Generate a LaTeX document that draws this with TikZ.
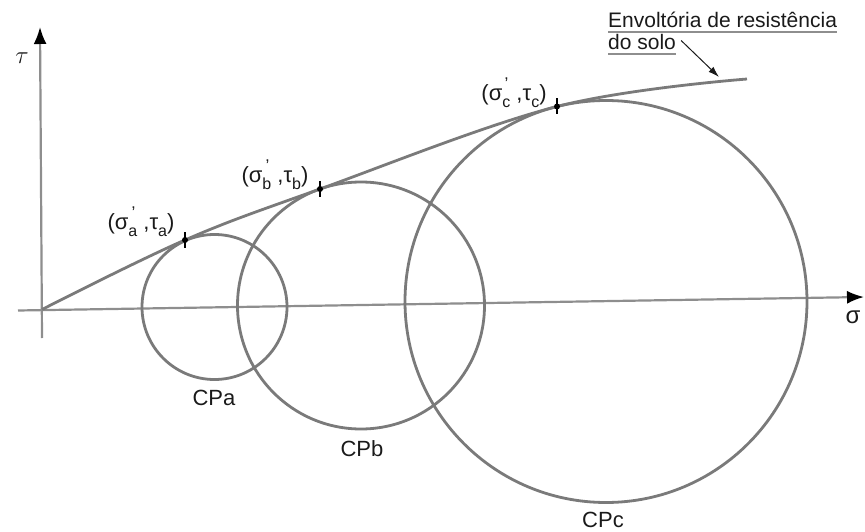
\documentclass[tikz,border=0pt]{standalone}
\usepackage{fontspec}
\setmainfont{Liberation Sans}
\usetikzlibrary{arrows.meta}
\definecolor{linegray}{HTML}{7A7A7A}
\definecolor{axisgray}{HTML}{8E8E8E}
\definecolor{inkc}{HTML}{1A1A1A}
\newcommand{\sigpair}[1]{(σ\raisebox{-0.3em}{\fontsize{16}{16}\selectfont #1}\llap{\raisebox{0.5em}{\fontsize{17}{17}\selectfont '\kern2pt}}\ ,τ\raisebox{-0.3em}{\fontsize{16}{16}\selectfont #1})}
\begin{document}
\begin{tikzpicture}[x=1pt,y=-1pt,
  curveline/.style={draw=linegray,line width=2.8pt},
  axisline/.style={draw=axisgray,line width=2.2pt},
  lbl/.style={text=inkc,font=\fontsize{22}{26}\selectfont,inner sep=0pt},
  tickdot/.style={circle,fill=black,inner sep=0pt,minimum size=6pt},
  tickbar/.style={draw=black,line width=1.1pt}]
\useasboundingbox (0,0) rectangle (865,532);

% axes
\coordinate (O) at (42,309.5);
\coordinate (taxisbot) at (42,338);
\coordinate (taxistop) at (40,27);
\coordinate (saxisleft) at (18,310.5);
\coordinate (saxisright) at (864,297);
\draw[axisline,-{Latex[length=17pt,width=13pt,color=black]}] (taxisbot) -- (taxistop);
\draw[axisline,-{Latex[length=17pt,width=13pt,color=black]}] (saxisleft) -- (saxisright);

% Mohr circles
\coordinate (ca) at (214.5,307);
\coordinate (cb) at (361,305.5);
\coordinate (cc) at (606,301.5);
\draw[curveline] (ca) circle[radius=72.5pt];
\draw[curveline] (cb) circle[radius=123.5pt];
\draw[curveline] (cc) circle[radius=201pt];

% envelope
\coordinate (ta) at (185,240);
\coordinate (tb) at (320,189);
\coordinate (tc) at (557,106.5);
\coordinate (tend) at (747,79);
\draw[curveline] plot[smooth,tension=0.6] coordinates {(O) (ta) (tb) (tc) (tend)};

% tangent points
\foreach \p in {ta,tb,tc}{
  \draw[tickbar] (\p) ++(0,-8) -- ++(0,16);
  \node[tickdot] at (\p) {};
}

% point labels
\node[lbl] (la) at (141,222) {\sigpair{a}};
\node[lbl] (lb) at (275,175) {\sigpair{b}};
\node[lbl] (lc) at (514,93) {\sigpair{c}};

% circle labels
\node[lbl] (cpa) at (214,398) {CPa};
\node[lbl] (cpb) at (362,449) {CPb};
\node[lbl] (cpc) at (603,520) {CPc};

% axis labels
\node[lbl,font=\fontsize{26}{26}\selectfont] (tau) at (22,58) {$\tau$};
\node[lbl,font=\fontsize{24}{24}\selectfont] (sig) at (853,317) {σ};

% envelope label
\node[lbl,anchor=base west,font=\fontsize{21}{24}\selectfont] (env1) at (608,28) {Envoltória de resistência};
\node[lbl,anchor=base west,font=\fontsize{21}{24}\selectfont] (env2) at (608,50) {do solo};
\draw[axisgray,line width=1.6pt] ([yshift=-3.5pt]env1.south west) -- ([yshift=-3.5pt]env1.south east);
\draw[axisgray,line width=1.6pt] ([yshift=-3.5pt]env2.south west) -- ([yshift=-3.5pt]env2.south east);
\coordinate (envtip) at (719,77);
\draw[inkc,line width=1pt,-{Latex[length=11pt,width=7pt]}] ([xshift=5pt,yshift=2pt]env2.east) -- (envtip);
\end{tikzpicture}
\end{document}
